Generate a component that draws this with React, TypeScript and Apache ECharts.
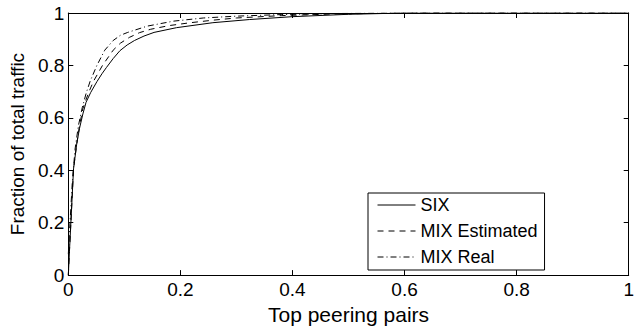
import React, { useEffect, useRef } from "react";
import * as echarts from "echarts";

const xTicks = [0, 0.2, 0.4, 0.6, 0.8, 1];
const yTicks = [0, 0.2, 0.4, 0.6, 0.8, 1];

const sixX = [0, 0.002, 0.0046, 0.0093, 0.015, 0.02, 0.026, 0.0316, 0.04, 0.051, 0.06, 0.068, 0.08, 0.092, 0.105, 0.118, 0.135, 0.153, 0.193, 0.258, 0.323, 0.4, 0.5, 0.6, 1];
const sixY = [0, 0.09, 0.2, 0.405, 0.5, 0.56, 0.615, 0.659, 0.697, 0.738, 0.768, 0.792, 0.826, 0.856, 0.878, 0.895, 0.912, 0.926, 0.944, 0.963, 0.975, 0.986, 0.995, 1, 1];

const estX = [0, 0.002, 0.0046, 0.0093, 0.015, 0.02, 0.026, 0.032, 0.038, 0.045, 0.061, 0.08, 0.093, 0.109, 0.127, 0.147, 0.18, 0.218, 0.26, 0.3, 0.38, 0.47, 0.6, 1];
const estY = [0, 0.09, 0.2, 0.405, 0.5, 0.57, 0.635, 0.672, 0.705, 0.74, 0.8, 0.858, 0.885, 0.907, 0.925, 0.938, 0.952, 0.963, 0.973, 0.981, 0.99, 0.996, 1, 1];

const realX = [0, 0.003, 0.007, 0.012, 0.018, 0.025, 0.032, 0.039, 0.051, 0.065, 0.08, 0.093, 0.106, 0.141, 0.188, 0.241, 0.3, 0.38, 0.47, 0.6, 1];
const realY = [0.08, 0.2, 0.35, 0.48, 0.57, 0.64, 0.695, 0.74, 0.8, 0.858, 0.895, 0.915, 0.926, 0.95, 0.969, 0.981, 0.988, 0.994, 0.998, 1, 1];

const seriesNames = ["SIX", "MIX Estimated", "MIX Real"];

const FONT = "'Liberation Sans', Arial, Helvetica, sans-serif";

function pairs(xs: number[], ys: number[]) {
  return xs.map((x, i) => [x, ys[i]]);
}

export default function App() {
  const ref = useRef<HTMLDivElement>(null);
  useEffect(() => {
    if (!ref.current) return;
    const chart = echarts.init(ref.current, undefined, { renderer: "svg" });
    const axisCommon = {
      type: "value" as const,
      min: 0,
      max: 1,
      interval: 0.2,
      splitLine: { show: false },
      axisLine: { show: true, onZero: false, lineStyle: { color: "#000", width: 1 } },
      axisTick: { show: true, inside: true, length: 5, lineStyle: { color: "#000", width: 1 } },
    };
    const labelStyle = { color: "#000", fontSize: 19, fontFamily: FONT };
    const lineCommon = {
      type: "line" as const,
      symbol: "none",
      smooth: false,
      itemStyle: { color: "#000" },
    };
    chart.setOption({
      animation: false,
      backgroundColor: "#fff",
      grid: { left: 65, right: 3, top: 13, bottom: 48, containLabel: false },
      xAxis: [
        {
          ...axisCommon,
          position: "bottom",
          axisLabel: { ...labelStyle, margin: 5, formatter: (v: number) => (xTicks.includes(v) ? String(v) : "") },
          name: "Top peering pairs",
          nameLocation: "middle",
          nameGap: 24,
          nameTextStyle: { color: "#000", fontSize: 21, fontFamily: FONT },
        },
        { ...axisCommon, position: "top", axisLabel: { show: false } },
      ],
      yAxis: [
        {
          ...axisCommon,
          position: "left",
          axisLabel: { ...labelStyle, margin: 4, formatter: (v: number) => (yTicks.includes(v) ? String(v) : "") },
          name: "Fraction of total traffic",
          nameLocation: "middle",
          nameGap: 38,
          nameRotate: 90,
          nameTextStyle: { color: "#000", fontSize: 19, fontFamily: FONT },
        },
        { ...axisCommon, position: "right", axisLabel: { show: false } },
      ],
      legend: {
        data: seriesNames,
        orient: "vertical",
        left: 368,
        top: 193,
        padding: [3, 7, 4, 9],
        itemGap: 8,
        itemWidth: 38,
        itemHeight: 17,
        borderColor: "#000",
        borderWidth: 1,
        backgroundColor: "#fff",
        itemStyle: { opacity: 0 },
        lineStyle: { width: 1 },
        textStyle: { color: "#000", fontSize: 18, fontFamily: FONT },
      },
      series: [
        {
          ...lineCommon,
          name: seriesNames[0],
          data: pairs(sixX, sixY),
          lineStyle: { color: "#000", width: 1, type: "solid" },
        },
        {
          ...lineCommon,
          name: seriesNames[1],
          data: pairs(estX, estY),
          lineStyle: { color: "#000", width: 1, type: [6, 5] },
        },
        {
          ...lineCommon,
          name: seriesNames[2],
          data: pairs(realX, realY),
          lineStyle: { color: "#000", width: 1, type: [6, 3, 1, 3] },
        },
      ],
    });
    return () => chart.dispose();
  }, []);
  return <div ref={ref} style={{ position: "fixed", left: 0, top: 0, width: 637, height: 330 }} />;
}
